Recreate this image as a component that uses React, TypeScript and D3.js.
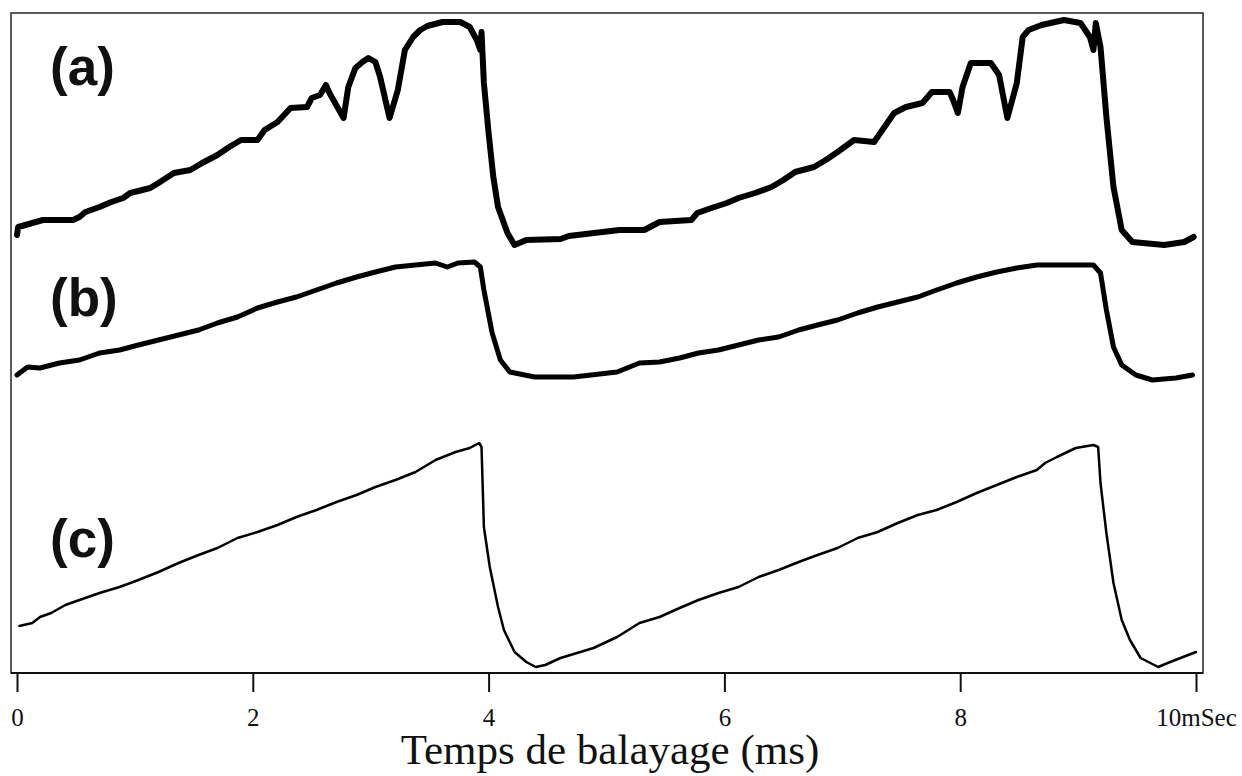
import React, { useEffect, useRef } from "react";
import * as d3 from "d3";

// Time (ms) and signal (arbitrary units)
const traceA: [number, number][] = [
  [0.0, 438], [0.01, 446], [0.13, 450], [0.22, 453], [0.475, 453], [0.53, 456], [0.58, 461],
  [0.7, 466], [0.8, 471], [0.9, 475], [0.96, 480], [1.13, 485], [1.2, 490], [1.33, 500],
  [1.47, 503], [1.57, 510], [1.7, 518], [1.8, 526], [1.9, 533], [2.04, 533], [2.1, 543],
  [2.21, 551], [2.32, 565], [2.46, 566], [2.5, 575], [2.57, 578], [2.62, 588], [2.65, 580],
  [2.77, 555], [2.81, 586], [2.87, 605], [2.93, 611], [2.98, 615], [3.04, 611], [3.08, 596],
  [3.16, 555], [3.23, 583], [3.29, 623], [3.36, 636], [3.42, 643], [3.48, 647], [3.61, 651],
  [3.76, 651], [3.84, 646], [3.9, 633], [3.93, 623], [3.94, 641], [3.96, 590], [4.0, 540],
  [4.04, 496], [4.08, 466], [4.16, 440], [4.22, 428], [4.32, 433], [4.61, 434], [4.68, 437],
  [5.11, 443], [5.32, 443], [5.45, 451], [5.72, 453], [5.77, 460], [5.89, 465], [6.02, 470],
  [6.12, 475], [6.26, 480], [6.4, 486], [6.5, 493], [6.6, 501], [6.76, 506], [6.86, 513],
  [6.96, 521], [7.1, 533], [7.27, 531], [7.34, 543], [7.44, 560], [7.54, 566], [7.68, 570],
  [7.76, 581], [7.91, 581], [7.94, 573], [7.98, 560], [8.02, 586], [8.09, 610], [8.26, 610],
  [8.33, 598], [8.4, 555], [8.48, 590], [8.53, 636], [8.58, 643], [8.69, 648], [8.88, 653],
  [9.02, 650], [9.1, 636], [9.13, 623], [9.15, 650], [9.19, 626], [9.24, 556], [9.3, 486],
  [9.37, 443], [9.46, 431], [9.73, 428], [9.9, 431], [9.98, 436],
];

const traceB: [number, number][] = [
  [0.0, 298], [0.09, 306], [0.195, 305], [0.36, 310], [0.53, 313], [0.7, 320], [0.87, 323],
  [1.03, 328], [1.2, 333], [1.37, 338], [1.54, 343], [1.7, 350], [1.87, 356], [2.04, 365],
  [2.21, 371], [2.37, 376], [2.54, 383], [2.71, 390], [2.88, 396], [3.04, 401], [3.21, 406],
  [3.38, 408], [3.55, 410], [3.65, 406], [3.74, 410], [3.88, 411], [3.93, 406], [3.96, 383],
  [4.03, 340], [4.1, 313], [4.18, 301], [4.39, 296], [4.72, 296], [5.09, 301], [5.28, 310],
  [5.45, 311], [5.62, 315], [5.78, 320], [5.95, 323], [6.12, 328], [6.29, 333], [6.46, 336],
  [6.63, 343], [6.79, 348], [6.96, 353], [7.13, 360], [7.3, 366], [7.47, 371], [7.64, 376],
  [7.8, 383], [7.97, 390], [8.14, 396], [8.31, 401], [8.48, 405], [8.65, 408], [8.82, 408],
  [8.98, 408], [9.13, 408], [9.19, 400], [9.24, 363], [9.3, 326], [9.37, 308], [9.49, 298],
  [9.63, 293], [9.83, 295], [9.97, 298],
];

const traceC: [number, number][] = [
  [0.02, 47], [0.13, 50], [0.195, 56], [0.29, 60], [0.41, 68], [0.53, 73], [0.7, 80],
  [0.87, 86], [1.03, 93], [1.2, 101], [1.37, 110], [1.54, 118], [1.7, 125], [1.87, 135],
  [2.04, 141], [2.21, 148], [2.37, 156], [2.54, 163], [2.71, 171], [2.88, 178], [3.04, 186],
  [3.21, 193], [3.38, 201], [3.55, 213], [3.72, 221], [3.84, 225], [3.92, 230], [3.94, 226],
  [3.96, 146], [4.01, 106], [4.08, 66], [4.13, 43], [4.22, 21], [4.32, 11], [4.4, 6],
  [4.48, 8], [4.61, 15], [4.89, 25], [5.09, 36], [5.28, 50], [5.45, 56], [5.62, 65],
  [5.78, 73], [5.95, 80], [6.12, 86], [6.29, 96], [6.46, 103], [6.63, 111], [6.79, 118],
  [6.96, 125], [7.13, 135], [7.3, 141], [7.47, 150], [7.64, 158], [7.8, 163], [7.97, 171],
  [8.14, 180], [8.31, 188], [8.48, 196], [8.65, 203], [8.72, 210], [8.82, 216], [8.98, 225],
  [9.13, 228], [9.17, 226], [9.19, 190], [9.24, 140], [9.3, 90], [9.37, 53], [9.44, 33],
  [9.53, 15], [9.68, 6], [9.76, 10], [9.89, 16], [10.0, 21],
];

const traceLabels = ["(a)", "(b)", "(c)"];
const labelLevels = [588, 357, 116];
const tickValues = [0, 2, 4, 6, 8, 10];
const axisTitle = "Temps de balayage (ms)";

const W = 1242;
const H = 776;
const frame = { left: 11, top: 13, right: 1203, bottom: 673 };

export default function App() {
  const axisRef = useRef<SVGGElement>(null);

  const x = d3.scaleLinear().domain([0, 10]).range([17, 1196]);
  const y = d3.scaleLinear().domain([0, 660]).range([frame.bottom, frame.top]);

  const line = d3
    .line<[number, number]>()
    .x((d) => x(d[0]))
    .y((d) => y(d[1]));

  useEffect(() => {
    if (!axisRef.current) return;
    const g = d3.select(axisRef.current);
    g.selectAll("*").remove();
    g.call(
      d3
        .axisBottom(x)
        .tickValues(tickValues)
        .tickSize(19)
        .tickPadding(16)
        .tickFormat((d) => ((d as number) === 10 ? "10mSec" : String(d)))
    );
    g.select(".domain").remove();
    g.selectAll(".tick line").attr("stroke", "#111").attr("stroke-width", 2);
    g.selectAll(".tick text")
      .attr("fill", "#111")
      .style("font-family", "'Liberation Serif', 'Times New Roman', serif")
      .style("font-size", "25px");
  }, []);

  const traces = [
    { data: traceA, width: 6 },
    { data: traceB, width: 5 },
    { data: traceC, width: 2.5 },
  ];

  return (
    <svg
      width={W}
      height={H}
      style={{ position: "absolute", left: 0, top: 0, background: "#fff" }}
    >
      <rect x={0} y={0} width={W} height={H} fill="#fff" />
      <rect
        x={frame.left}
        y={frame.top}
        width={frame.right - frame.left}
        height={frame.bottom - frame.top}
        fill="none"
        stroke="#333"
        strokeWidth={1.6}
      />
      <line
        x1={frame.left}
        x2={frame.right}
        y1={frame.bottom}
        y2={frame.bottom}
        stroke="#111"
        strokeWidth={2.2}
      />
      {traces.map((t, i) => (
        <path
          key={i}
          d={line(t.data) || ""}
          fill="none"
          stroke="#000"
          strokeWidth={t.width}
          strokeLinejoin="round"
          strokeLinecap="round"
        />
      ))}
      {traceLabels.map((lab, i) => (
        <text
          key={lab}
          x={50}
          y={y(labelLevels[i])}
          fontFamily="'Liberation Sans', Arial, sans-serif"
          fontWeight="bold"
          fontSize={53}
          fill="#111"
        >
          {lab}
        </text>
      ))}
      <g ref={axisRef} transform={`translate(0,${frame.bottom})`} />
      <text
        x={610}
        y={764}
        textAnchor="middle"
        fontFamily="'Liberation Serif', 'Times New Roman', serif"
        fontSize={43}
        fill="#111"
      >
        {axisTitle}
      </text>
    </svg>
  );
}
